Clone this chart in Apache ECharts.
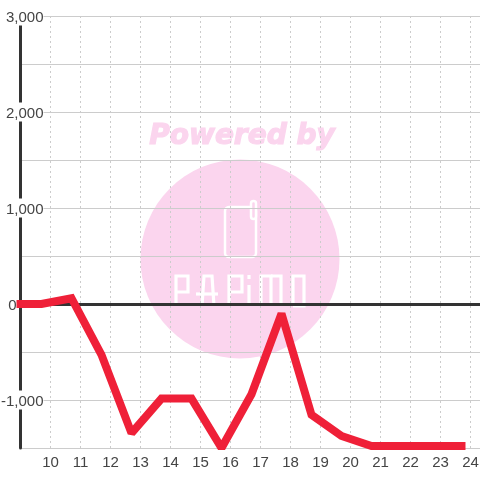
<!DOCTYPE html>
<html><head><meta charset="utf-8">
<style>html,body{margin:0;padding:0;background:#fff}#c{width:480px;height:480px}</style>
<script src="https://cdn.jsdelivr.net/npm/echarts@6/dist/echarts.min.js"></script>
</head><body><div id="c"></div>
<script>
const hours = [9, 9.7, 10.7, 11.7, 12.7, 13.7, 14.7, 15.7, 16.7, 17.7, 18.7, 19.7, 20.7, 21.7, 22.7, 23.7];
const values = [0, 0, 60, -530, -1345, -985, -985, -1500, -940, -100, -1155, -1375, -1480, -1480, -1480, -1480];
const chart = echarts.init(document.getElementById('c'), null, {renderer:'canvas'});
function letter(points){return {type:'polyline',z:-1,shape:{points},style:{fill:null,stroke:'#fff',lineWidth:3.2}};}
chart.setOption({
  animation:false,
  backgroundColor:'#fff',
  grid:{left:20.5,top:16,width:459.5,height:432,containLabel:false,outerBoundsMode:'none'},
  graphic:[
    {type:'circle',z:-2,shape:{cx:240,cy:259,r:99.5},style:{fill:'#fbd5ee'}},
    {type:'text',z:-2,x:242,y:137,style:{text:'Powered by',fill:'#fbd5ee',stroke:'#fbd5ee',lineWidth:1.2,font:'italic bold 28px "DejaVu Sans"',align:'center',verticalAlign:'middle'}},
    {type:'rect',z:-1,shape:{x:225,y:207,width:31,height:50,r:4},style:{fill:null,stroke:'#fff',lineWidth:2.5}},
    {type:'rect',z:-1,shape:{x:251,y:201,width:5,height:18,r:2.5},style:{fill:'#fbd5ee',stroke:'#fff',lineWidth:2.5}},
    letter([[176,306],[176,276],[188,276],[188,292],[176,292]]),
    letter([[196,294],[218,294]]),
    letter([[202,306],[204,276],[212,276],[214,306]]),
    letter([[229,306],[229,276],[242,276],[242,292],[229,292]]),
    letter([[249,306],[249,285]]),
    letter([[249,275],[249,279]]),
    letter([[261,306],[261,276],[271,276],[271,304]]),
    letter([[271,276],[281,276],[281,306]]),
    letter([[293,306],[293,276],[304,276],[304,306],[293,306]])
  ],
  xAxis:{type:'value',min:9,max:24.3167,interval:1,
    axisLine:{show:false},axisTick:{show:false},
    axisLabel:{show:true,margin:7,color:'#444',fontSize:15,fontFamily:'Liberation Sans',showMinLabel:false,showMaxLabel:false,hideOverlap:false,
      formatter:v=>Number.isInteger(v)&&v>9?String(v):''},
    splitLine:{show:true,lineStyle:{color:'#ccc',type:[2,3],width:1}}
  },
  yAxis:{type:'value',min:-1500,max:3000,interval:500,
    axisLine:{show:true,onZero:false,lineStyle:{color:'#333',width:3}},axisTick:{show:false},
    axisLabel:{show:true,inside:false,margin:-23,color:'#444',fontSize:15,fontFamily:'Liberation Sans',align:'right',
      showMinLabel:true,showMaxLabel:true,
      formatter:v=>v%1000!==0?'':(v===0?'{z|0}':'{w|'+v.toLocaleString('en-US')+'}'),
      rich:{z:{color:'#444',fontSize:15,fontFamily:'Liberation Sans',padding:[4,27,0,0]},w:{color:'#444',fontSize:15,fontFamily:'Liberation Sans',backgroundColor:'#fff',padding:[4,0,0,3]}}},
    splitLine:{show:true,lineStyle:{color:'#ccc',width:1}}
  },
  series:[{type:'line',data:hours.map((h,i)=>[h,values[i]]),symbol:'none',smooth:false,clip:false,
    lineStyle:{color:'#ef2038',width:8,cap:'square',join:'miter',miterLimit:1.5},z:5,
    markLine:{silent:true,symbol:'none',label:{show:false},z:4,lineStyle:{color:'#333',width:3,type:'solid'},data:[{yAxis:0}]}
  }]
});
</script></body></html>
